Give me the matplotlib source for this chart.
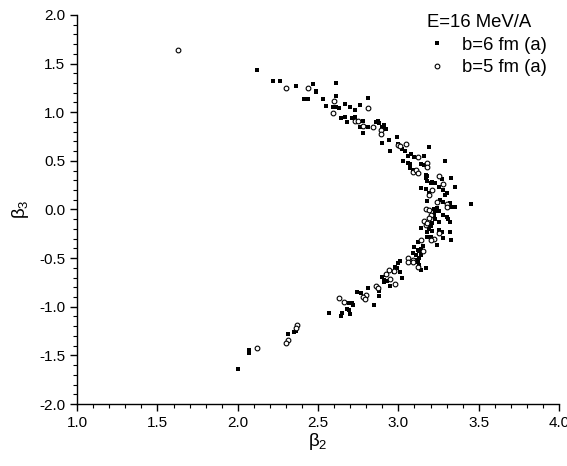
import matplotlib
matplotlib.use("Agg")
import matplotlib.pyplot as plt
from matplotlib.ticker import MultipleLocator

plt.rcParams['font.family'] = ['Liberation Sans', 'DejaVu Sans']

# b=6 fm (a) -- filled squares
b6_x = [2.12, 2.22, 2.26, 2.36, 2.47, 2.49, 2.49, 2.41, 2.44, 2.61, 2.61, 2.53,
        2.55, 2.59, 2.61, 2.63, 2.67, 2.70, 2.73, 2.76, 2.81, 2.64, 2.67, 2.68,
        2.71, 2.73, 2.78, 2.76, 2.81, 2.86, 2.87, 2.88, 2.78, 2.90, 2.91, 2.92,
        2.90, 2.94, 2.99, 2.99, 2.95, 3.00, 3.02, 3.04, 3.19, 3.08, 3.06, 3.10,
        3.16, 3.03, 3.06, 3.07, 3.14, 3.16, 3.29, 3.07, 3.09, 3.17, 3.18, 3.17,
        3.27, 3.33, 3.18, 3.20, 3.21, 3.23, 3.25, 3.14, 3.17, 3.19, 3.28, 3.30,
        3.29, 3.35, 3.18, 3.26, 3.28, 3.32, 3.45,
        3.22, 3.24, 3.25, 3.23, 3.33, 3.35, 3.28, 3.30, 3.22, 3.23, 3.32, 3.31,
        3.20, 3.21, 3.25, 3.14, 3.19, 3.18, 3.21, 3.25, 3.27, 3.32, 3.18, 3.20,
        3.28, 3.33, 3.12, 3.24, 3.15, 3.10, 3.12, 3.13, 3.14, 3.09, 3.11, 3.14,
        3.13, 3.11, 3.12, 3.13, 3.01, 3.00, 3.17, 3.14, 2.98, 2.99, 3.01, 2.92,
        2.97, 3.02, 2.90, 2.91, 2.93, 2.95, 2.91, 2.81, 2.88, 2.74, 2.77, 2.85,
        2.88, 2.69, 2.71, 2.72, 2.68, 2.69, 2.57, 2.65, 2.64, 2.70,
        2.35, 2.36, 2.31, 2.07, 2.07, 2.07, 2.00]
b6_y = [1.43, 1.32, 1.32, 1.27, 1.29, 1.22, 1.21, 1.14, 1.14, 1.30, 1.17, 1.14,
        1.06, 1.05, 1.05, 1.04, 1.08, 1.05, 1.02, 1.07, 1.15, 0.94, 0.95, 0.90,
        0.94, 0.95, 0.91, 0.85, 0.85, 0.90, 0.91, 0.89, 0.79, 0.85, 0.87, 0.83,
        0.68, 0.71, 0.74, 0.75, 0.60, 0.67, 0.62, 0.60, 0.64, 0.57, 0.55, 0.54,
        0.55, 0.50, 0.48, 0.47, 0.47, 0.46, 0.50, 0.43, 0.41, 0.35, 0.34, 0.32,
        0.31, 0.32, 0.29, 0.27, 0.28, 0.27, 0.23, 0.22, 0.21, 0.17, 0.20, 0.17,
        0.15, 0.23, 0.09, 0.10, 0.08, 0.07, 0.06,
        0.00, 0.01, -0.02, -0.02, 0.03, 0.03, -0.06, -0.08, -0.06, -0.10, -0.13, -0.10,
        -0.17, -0.14, -0.13, -0.19, -0.20, -0.23, -0.22, -0.21, -0.23, -0.23, -0.28, -0.28,
        -0.29, -0.31, -0.33, -0.37, -0.38, -0.39, -0.42, -0.43, -0.41, -0.45, -0.47, -0.47,
        -0.50, -0.52, -0.54, -0.57, -0.53, -0.55, -0.60, -0.62, -0.59, -0.60, -0.64, -0.67,
        -0.64, -0.70, -0.69, -0.72, -0.74, -0.79, -0.75, -0.81, -0.89, -0.85, -0.86, -0.98,
        -0.84, -0.96, -0.96, -0.98, -1.02, -1.03, -1.06, -1.06, -1.10, -1.07,
        -1.26, -1.25, -1.28, -1.44, -1.46, -1.48, -1.64]

# b=5 fm (a) -- open circles
b5_x = [1.63, 2.30, 2.44, 2.60, 2.59, 2.81, 2.73, 2.75, 2.78, 2.84, 2.89, 2.89,
        3.00, 3.01, 3.05, 3.12, 3.18, 3.18, 3.09, 3.11, 3.12, 3.25, 3.28, 3.21,
        3.19, 3.24, 3.30,
        3.17, 3.19, 3.30, 3.20, 3.19, 3.16, 3.17, 3.18, 3.25, 3.22, 3.20, 3.14,
        3.15, 3.06, 3.09, 3.06, 3.09, 3.12, 2.94, 2.97, 2.92, 2.95, 2.98, 2.86,
        2.87, 2.80, 2.78, 2.79, 2.63, 2.66, 2.37, 2.36, 2.31, 2.30, 2.12]
b5_y = [1.64, 1.25, 1.25, 1.12, 0.99, 1.04, 0.91, 0.91, 0.86, 0.85, 0.82, 0.78,
        0.66, 0.65, 0.67, 0.54, 0.48, 0.44, 0.39, 0.41, 0.37, 0.34, 0.26, 0.20,
        0.15, 0.08, 0.06,
        0.00, -0.01, 0.03, -0.06, -0.09, -0.12, -0.16, -0.14, -0.24, -0.30, -0.31, -0.31,
        -0.43, -0.50, -0.52, -0.54, -0.54, -0.59, -0.62, -0.63, -0.66, -0.71, -0.77, -0.79,
        -0.81, -0.88, -0.90, -0.92, -0.91, -0.95, -1.19, -1.22, -1.34, -1.37, -1.42]

x_ticks = [1.0, 1.5, 2.0, 2.5, 3.0, 3.5, 4.0]
y_ticks = [-2.0, -1.5, -1.0, -0.5, 0.0, 0.5, 1.0, 1.5, 2.0]

fig = plt.figure(figsize=(5.67, 4.66), dpi=100)
ax = fig.add_axes([0.136, 0.133, 0.850, 0.835])

ax.plot(b6_x, b6_y, linestyle='none', marker='s', markersize=3.0,
        color='black', markeredgewidth=0, label='b=6 fm (a)')
ax.plot(b5_x, b5_y, linestyle='none', marker='o', markersize=3.4,
        markerfacecolor='white', markeredgecolor='black', markeredgewidth=0.8,
        label='b=5 fm (a)')

ax.set_xlim(1.0, 4.0)
ax.set_ylim(-2.0, 2.0)
ax.set_xticks(x_ticks)
ax.set_yticks(y_ticks)
ax.set_xticklabels([f"{v:.1f}" for v in x_ticks])
ax.set_yticklabels([f"{v:.1f}" for v in y_ticks])
ax.xaxis.set_minor_locator(MultipleLocator(0.1))
ax.yaxis.set_minor_locator(MultipleLocator(0.1))
ax.tick_params(which='major', direction='out', length=5, width=1.0, labelsize=11)
ax.tick_params(which='minor', direction='out', length=3, width=0.8)
for s in ['top', 'right']:
    ax.spines[s].set_visible(False)
for s in ['left', 'bottom']:
    ax.spines[s].set_linewidth(1.0)

ax.set_xlabel(r'$\mathregular{\beta_2}$', fontsize=13.5, labelpad=1)
ax.set_ylabel(r'$\mathregular{\beta_3}$', fontsize=13.5, labelpad=6)

leg = ax.legend(loc='upper right', bbox_to_anchor=(1.01, 1.045), frameon=False,
                title='E=16 MeV/A', fontsize=13.3, title_fontsize=13.3,
                handletextpad=0.9, labelspacing=0.3, markerscale=1.0,
                handlelength=1.0, alignment='left')

fig.savefig('out.png', dpi=100)
